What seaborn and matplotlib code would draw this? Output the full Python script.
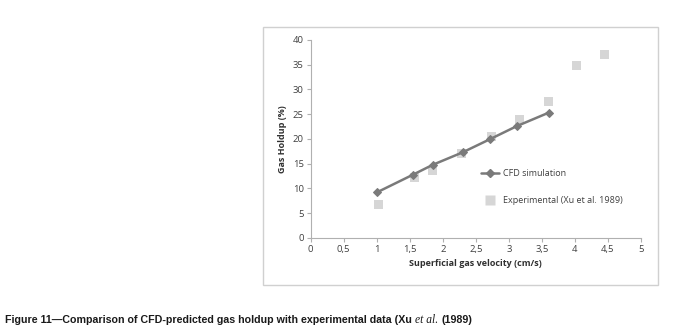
import matplotlib
matplotlib.use("Agg")
import matplotlib.pyplot as plt
import seaborn as sns
import pandas as pd
from matplotlib.patches import Rectangle
from matplotlib.lines import Line2D

cfd_x = [1.0, 1.55, 1.85, 2.3, 2.72, 3.12, 3.6]
cfd_y = [9.2, 12.8, 14.8, 17.3, 20.0, 22.6, 25.3]
exp_x = [1.02, 1.57, 1.85, 2.28, 2.73, 3.16, 3.6, 4.03, 4.45]
exp_y = [6.8, 12.2, 13.7, 17.1, 20.6, 24.0, 27.5, 34.9, 37.0]
x_ticks = [0, 0.5, 1, 1.5, 2, 2.5, 3, 3.5, 4, 4.5, 5]
x_tick_labels = ["0", "0,5", "1", "1,5", "2", "2,5", "3", "3,5", "4", "4,5", "5"]
y_ticks = [0, 5, 10, 15, 20, 25, 30, 35, 40]

sns.set_theme(style="white")
plt.rcParams['font.family'] = ['Open Sans', 'DejaVu Sans']

fig = plt.figure(figsize=(6.74, 3.35), dpi=100)
fig.patch.set_facecolor("white")

# outer chart border
fig.patches.append(Rectangle((0.390, 0.149), 0.586, 0.770, transform=fig.transFigure,
                             fill=False, edgecolor="#d0d0d0", linewidth=1.0))

ax = fig.add_axes([0.461, 0.2896, 0.490, 0.591])
cfd_df = pd.DataFrame({"x": cfd_x, "y": cfd_y})
exp_df = pd.DataFrame({"x": exp_x, "y": exp_y})

sns.scatterplot(data=exp_df, x="x", y="y", ax=ax, marker="s", s=42, color="#d6d6d6",
                edgecolor="none", zorder=2)
sns.lineplot(data=cfd_df, x="x", y="y", ax=ax, color="#7a7a7a", linewidth=1.8,
             marker="D", markersize=4, markeredgecolor="#7a7a7a", zorder=3)

ax.set_xlim(0, 5)
ax.set_ylim(0, 40)
ax.set_xticks(x_ticks)
ax.set_xticklabels(x_tick_labels)
ax.set_yticks(y_ticks)
for s in ["top", "right"]:
    ax.spines[s].set_visible(False)
for s in ["left", "bottom"]:
    ax.spines[s].set_color("#b0b0b0")
    ax.spines[s].set_linewidth(0.8)
ax.tick_params(axis="both", labelsize=6.8, colors="#b0b0b0", labelcolor="#404040",
               length=3, width=0.8, direction="out", pad=2)
ax.tick_params(axis="x", bottom=True)
ax.tick_params(axis="y", left=True)
ax.set_xlabel("Superficial gas velocity (cm/s)", fontsize=6.5, fontweight="bold",
              color="#303030", labelpad=4)
ax.set_ylabel("Gas Holdup (%)", fontsize=6.5, fontweight="bold", color="#303030", labelpad=4)

handles = [Line2D([0], [0], color="#7a7a7a", linewidth=1.8, marker="D", markersize=4),
           Line2D([0], [0], color="none", marker="s", markersize=6.5,
                  markerfacecolor="#d6d6d6", markeredgecolor="none")]
leg = ax.legend(handles, ["CFD simulation", "Experimental (Xu et al. 1989)"],
                loc="upper left", bbox_to_anchor=(0.505, 0.365), frameon=False,
                fontsize=6.5, labelspacing=2.0, handlelength=2.0, handletextpad=0.4,
                borderaxespad=0)
for t in leg.get_texts():
    t.set_color("#404040")

# caption
cap_family = ['Liberation Sans Narrow', 'Liberation Sans', 'DejaVu Sans']
fig.canvas.draw()
r = fig.canvas.get_renderer()
x0 = 0.008
y0 = 0.035
t1 = fig.text(x0, y0, "Figure 11\u2014Comparison of CFD-predicted gas holdup with experimental data (Xu ",
              fontsize=7.7, fontweight="bold", family=cap_family, color="#1a1a1a")
bb = t1.get_window_extent(r)
x1 = bb.x1 / fig.bbox.width
t2 = fig.text(x1, y0, "et al.", fontsize=8.3, style="italic", family=["Liberation Serif", "DejaVu Serif"],
              color="#1a1a1a")
bb2 = t2.get_window_extent(r)
x2 = bb2.x1 / fig.bbox.width + 0.004
fig.text(x2, y0, "(1989)", fontsize=7.7, fontweight="bold", family=cap_family, color="#1a1a1a")

fig.savefig("out.png", dpi=100, facecolor="white")
